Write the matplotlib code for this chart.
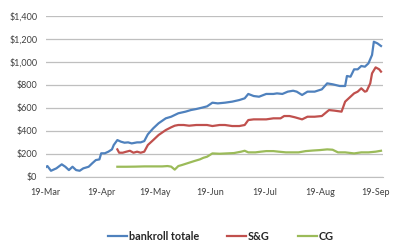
import numpy as np
import matplotlib
matplotlib.use("Agg")
import matplotlib.pyplot as plt
import matplotlib.dates as mdates
from matplotlib.ticker import FuncFormatter

# days counted from 19-Mar
start = np.datetime64("2010-03-19")

bank_days = [0, 1, 3, 6, 9, 11, 13, 15, 17, 19, 21, 24, 26, 28, 30, 31, 33, 35, 37, 38,
             40, 42, 44, 46, 48, 51, 53, 55, 57, 60, 63, 67, 70, 74, 78, 81, 84, 87, 90,
             93, 96, 100, 104, 108, 111, 113, 116, 119, 123, 127, 129, 132, 135, 138, 140,
             143, 146, 150, 154, 157, 160, 164, 167, 168, 170, 172, 174, 176, 178, 180,
             182, 183, 185, 187]
bank_vals = [82, 93, 52, 73, 108, 87, 58, 87, 58, 52, 73, 87, 117, 145, 151, 204, 204, 218, 238, 276,
             319, 305, 296, 299, 290, 299, 299, 310, 369, 421, 465, 508, 522, 552, 566, 580, 589, 600, 612,
             644, 638, 644, 653, 667, 682, 720, 702, 696, 720, 720, 725, 720, 740, 748, 740,
             711, 740, 740, 760, 812, 804, 789, 789, 876, 870, 934, 934, 963, 957, 986,
             1059, 1174, 1160, 1137]

sg_days = [40, 41, 43, 45, 47, 49, 51, 53, 55, 57, 60, 63, 67, 70, 72, 74, 77, 80, 84, 90,
           93, 97, 100, 104, 108, 111, 113, 116, 120, 123, 127, 131, 133, 136, 139, 143, 146,
           150, 154, 158, 161, 165, 167, 169, 172, 174, 176, 178, 179, 181, 182, 184, 186, 187]
sg_vals = [238, 209, 209, 218, 226, 209, 218, 209, 218, 276, 319, 363, 406, 430, 444, 450, 450, 444, 450, 450,
           441, 450, 450, 441, 441, 450, 493, 499, 499, 499, 508, 508, 528, 528, 517, 499, 522,
           522, 528, 580, 575, 566, 653, 682, 725, 740, 769, 740, 745, 812, 899, 951, 934, 914]

cg_days = [40, 45, 50, 55, 60, 65, 68, 70, 72, 74, 76, 79, 83, 86, 88, 90, 93, 97, 101, 105,
           109, 111, 113, 117, 120, 123, 127, 130, 134, 138, 141, 145, 149, 153, 157, 160,
           163, 167, 172, 176, 180, 184, 187]
cg_vals = [87, 87, 88, 90, 90, 90, 93, 88, 62, 93, 102, 117, 137, 151, 165, 174, 203, 200, 203, 206,
           218, 226, 212, 212, 218, 223, 223, 218, 212, 212, 212, 223, 228, 232, 238, 235,
           212, 212, 203, 212, 212, 218, 226]

tick_days = [0, 31, 61, 92, 122, 153, 184]
y_ticks = [0, 200, 400, 600, 800, 1000, 1200, 1400]


def to_dates(days):
    return start + np.array(days).astype("timedelta64[D]")


plt.rcParams["font.family"] = ["Lato", "DejaVu Sans"]

fig = plt.figure(figsize=(4, 2.5), dpi=100)
ax = fig.add_axes([0.114, 0.293, 0.843, 0.644])

ax.plot(to_dates(bank_days), bank_vals, color="#4F81BD", lw=1.6, label="bankroll totale")
ax.plot(to_dates(sg_days), sg_vals, color="#C0504D", lw=1.6, label="S&G")
ax.plot(to_dates(cg_days), cg_vals, color="#9BBB59", lw=1.6, label="CG")

ax.set_ylim(0, 1400)
ax.set_yticks(y_ticks)
ax.yaxis.set_major_formatter(FuncFormatter(lambda v, p: "${:,.0f}".format(v)))
ax.set_xlim(to_dates([0])[0], to_dates([188])[0])
ax.set_xticks(to_dates(tick_days))
ax.xaxis.set_major_formatter(mdates.DateFormatter("%d-%b"))

ax.grid(axis="y", color="#BFBFBF", lw=0.9)
ax.set_axisbelow(True)
for s in ["top", "right", "left"]:
    ax.spines[s].set_visible(False)
ax.spines["bottom"].set_color("#BFBFBF")
ax.tick_params(length=0, labelsize=6.5, colors="#404040")
ax.tick_params(axis="y", pad=6)
ax.tick_params(axis="x", pad=8)

leg = ax.legend(loc="center", bbox_to_anchor=(0.52, -0.37), ncol=3, frameon=False,
                prop={"weight": "bold", "size": 7.8}, handlelength=1.75, handletextpad=0.15,
                columnspacing=2.6)
for t in leg.get_texts():
    t.set_color("#262626")

fig.savefig("out.png", dpi=100)
